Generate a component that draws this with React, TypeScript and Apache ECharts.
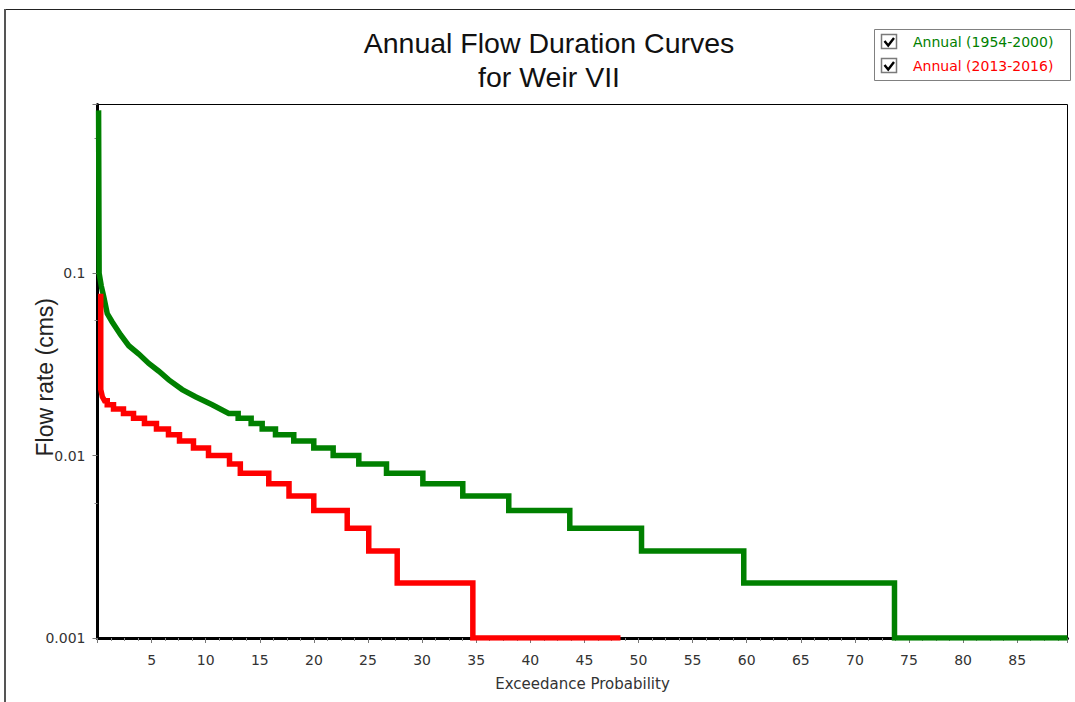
import React, { useEffect, useRef } from 'react';
import * as echarts from 'echarts';

// ---------- texts ----------
const titleLines = ['Annual Flow Duration Curves', 'for Weir VII'];
const seriesNames = ['Annual (1954-2000)', 'Annual (2013-2016)'];
const seriesColors = ['#008000', '#ff0000'];
const xAxisTitle = 'Exceedance Probability';
const yAxisTitle = 'Flow rate (cms)';
const yTickLabels = ['0.001', '0.01', '0.1'];
const xTickLabels = ['5', '10', '15', '20', '25', '30', '35', '40', '45', '50', '55', '60', '65', '70', '75', '80', '85'];

// ---------- axis ranges ----------
const xMin = 0;
const xMax = 89.65;
const yMin = 0.001;
const yMax = 0.84;

// ---------- Annual (1954-2000) ----------
// smooth upper part (exceedance %, flow cms)
const greenCurveX = [0.1, 0.15, 0.35, 0.58, 0.9, 1.36, 2.13, 2.89, 3.82, 4.74, 5.67, 6.59, 7.83, 9.06, 10.6, 12.13];
const greenCurveY = [0.78, 0.1, 0.085, 0.074, 0.06, 0.054, 0.046, 0.04, 0.036, 0.032, 0.029, 0.026, 0.023, 0.021, 0.019, 0.017];
// stepped lower part: exceedance where each flow level starts, and the level
const greenStepX = [13.0, 14.2, 15.22, 16.45, 18.14, 19.99, 21.78, 24.15, 26.71, 30.07, 33.76, 38.01, 43.65, 50.28, 59.73, 73.66];
const greenStepY = [0.016, 0.015, 0.014, 0.013, 0.012, 0.011, 0.01, 0.009, 0.008, 0.007, 0.006, 0.005, 0.004, 0.003, 0.002, 0.001];
const greenEndX = 89.65;

// ---------- Annual (2013-2016) ----------
const redCurveX = [0.3, 0.3, 0.45, 0.65];
const redCurveY = [0.077, 0.023, 0.021, 0.02];
const redStepX = [0.9, 1.48, 2.4, 3.33, 4.34, 5.45, 6.56, 7.58, 8.87, 10.26, 12.2, 13.2, 15.83, 17.7, 19.99, 23.08, 25.07, 27.7, 34.69];
const redStepY = [0.019, 0.018, 0.017, 0.016, 0.015, 0.014, 0.013, 0.012, 0.011, 0.01, 0.009, 0.008, 0.007, 0.006, 0.005, 0.004, 0.003, 0.002, 0.001];
const redEndX = 48.34;

function buildCurve(cx: number[], cy: number[], sx: number[], sy: number[], endX: number) {
  const pts: number[][] = cx.map((x, i) => [x, cy[i]]);
  for (let i = 0; i < sx.length; i++) {
    const prev = pts[pts.length - 1][1];
    pts.push([sx[i], prev]);
    pts.push([sx[i], sy[i]]);
  }
  pts.push([endX, sy[sy.length - 1]]);
  return pts;
}

const tickFont = 'DejaVu Sans';
const tickColor = '#333';

export default function App() {
  const ref = useRef<HTMLDivElement>(null);
  useEffect(() => {
    if (!ref.current) return;
    const chart = echarts.init(ref.current, null, { renderer: 'svg' });
    const legendGraphics: any[] = [
      {
        type: 'rect',
        shape: { x: 874.5, y: 29.5, width: 196, height: 51 },
        style: { fill: '#fff', stroke: '#808080', lineWidth: 1 },
        z: 10,
      },
    ];
    seriesNames.forEach((name, i) => {
      const dy = i * 24;
      legendGraphics.push(
        {
          type: 'rect',
          shape: { x: 881.5, y: 34.5 + dy, width: 15, height: 14 },
          style: { fill: '#fff', stroke: '#7a7a7a', lineWidth: 1.5 },
          z: 11,
        },
        {
          type: 'polyline',
          shape: { points: [[884.5, 41 + dy], [888.2, 45.5 + dy], [894, 38 + dy]] },
          style: { stroke: '#000', lineWidth: 2.4, fill: null },
          z: 12,
        },
        {
          type: 'text',
          x: 913,
          y: 41.5 + dy,
          style: {
            text: name,
            fill: seriesColors[i],
            font: `14px "${tickFont}"`,
            align: 'left',
            verticalAlign: 'middle',
          },
          z: 12,
        }
      );
    });

    const option: any = {
      animation: false,
      backgroundColor: '#fff',
      grid: {
        left: 97.5,
        right: 7.5,
        top: 104.5,
        bottom: 64,
        show: true,
        borderColor: '#000',
        borderWidth: 1,
        backgroundColor: 'transparent',
      },
      xAxis: {
        type: 'value',
        min: xMin,
        max: xMax,
        interval: 5,
        name: xAxisTitle,
        nameLocation: 'middle',
        nameGap: 38,
        nameMoveOverlap: false,
        nameTextStyle: { fontFamily: tickFont, fontSize: 15, color: tickColor },
        axisLine: { show: true, onZero: false, lineStyle: { color: '#000', width: 3 } },
        axisTick: { show: true, length: 5, lineStyle: { color: '#777', width: 1 } },
        minorTick: { show: true, splitNumber: 4, length: 3, lineStyle: { color: '#888', width: 1 } },
        splitLine: { show: false },
        axisLabel: {
          margin: 15,
          fontFamily: tickFont,
          fontSize: 14,
          color: tickColor,
          formatter: (v: number) => {
            const s = String(Math.round(v * 100) / 100);
            return xTickLabels.includes(s) ? s : '';
          },
        },
      },
      yAxis: {
        type: 'log',
        logBase: 10,
        min: yMin,
        max: yMax,
        name: yAxisTitle,
        nameLocation: 'middle',
        nameGap: 41,
        nameMoveOverlap: false,
        nameTextStyle: { fontFamily: 'Liberation Sans', fontSize: 23, color: '#222', padding: [0, 12, 0, 0] },
        axisLine: { show: true, lineStyle: { color: '#000', width: 3 } },
        axisTick: { show: true, length: 5, lineStyle: { color: '#777', width: 1 } },
        minorTick: { show: true, splitNumber: 2, length: 3, lineStyle: { color: '#888', width: 1 } },
        splitLine: { show: false },
        axisLabel: {
          margin: 12,
          fontFamily: tickFont,
          fontSize: 14,
          color: tickColor,
          formatter: (v: number) => {
            const m = yTickLabels.find((t) => Math.abs(Math.log10(parseFloat(t)) - Math.log10(v)) < 1e-6);
            return m ?? '';
          },
        },
      },
      series: [
        {
          name: seriesNames[0],
          type: 'line',
          data: buildCurve(greenCurveX, greenCurveY, greenStepX, greenStepY, greenEndX),
          symbol: 'none',
          lineStyle: { color: seriesColors[0], width: 5.5, join: 'miter' },
          itemStyle: { color: seriesColors[0] },
          z: 3,
        },
        {
          name: seriesNames[1],
          type: 'line',
          data: buildCurve(redCurveX, redCurveY, redStepX, redStepY, redEndX),
          symbol: 'none',
          lineStyle: { color: seriesColors[1], width: 5.5, join: 'miter' },
          itemStyle: { color: seriesColors[1] },
          z: 4,
        },
      ],
      graphic: [
        {
          type: 'line',
          shape: { x1: 5, y1: 9.5, x2: 1080, y2: 9.5 },
          style: { stroke: '#222', lineWidth: 1 },
        },
        {
          type: 'line',
          shape: { x1: 5, y1: 9, x2: 5, y2: 710 },
          style: { stroke: '#555', lineWidth: 2 },
        },
        {
          type: 'text',
          x: 549,
          y: 43,
          style: {
            text: titleLines[0],
            fill: '#111',
            font: '28.5px "Liberation Sans"',
            align: 'center',
            verticalAlign: 'middle',
          },
        },
        {
          type: 'text',
          x: 549,
          y: 77,
          style: {
            text: titleLines[1],
            fill: '#111',
            font: '28.5px "Liberation Sans"',
            align: 'center',
            verticalAlign: 'middle',
          },
        },
        ...legendGraphics,
      ],
    };
    chart.setOption(option);
    return () => chart.dispose();
  }, []);
  return (
    <div
      ref={ref}
      style={{ position: 'fixed', left: 0, top: 0, width: 1075, height: 702, background: '#fff' }}
    />
  );
}
